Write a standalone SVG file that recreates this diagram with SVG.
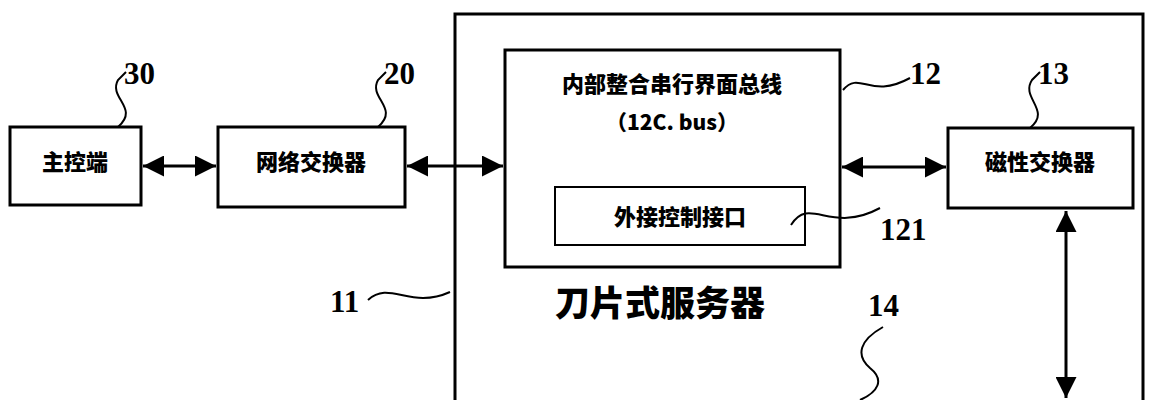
<svg xmlns="http://www.w3.org/2000/svg" width="1157" height="400" viewBox="0 0 1157 400">
<defs>
<marker id="ah" viewBox="0 0 10 10" refX="10" refY="5" markerWidth="7" markerHeight="7" orient="auto-start-reverse"><path d="M0,0 L10,5 L0,10 z" fill="#000"/></marker>
<style>
.box{fill:#fff;stroke:#000;stroke-width:3}
.lead{fill:none;stroke:#000;stroke-width:2}
.t{font-family:"Noto Sans CJK SC","Liberation Sans",sans-serif;font-weight:900;fill:#000}
.n{font-family:"Liberation Serif",serif;font-weight:bold;fill:#000;font-size:31px}
.c{fill:none;stroke:#000;stroke-width:3;marker-start:url(#ah);marker-end:url(#ah)}
</style>
</defs>
<rect width="1157" height="400" fill="#fff"/>
<g id="blade"><path class="box" d="M455,410 V14 H1143 V410" fill="none"/>
<text class="t" x="660" y="316" font-size="35" text-anchor="middle">刀片式服务器</text></g>
<g id="host"><rect class="box" x="10" y="127" width="131" height="78"/><text class="t" x="75" y="170" font-size="22" text-anchor="middle">主控端</text></g>
<g id="netsw"><rect class="box" x="218" y="127" width="187" height="80"/><text class="t" x="311" y="170" font-size="22" text-anchor="middle">网络交换器</text></g>
<g id="bus"><rect class="box" x="505" y="50" width="335" height="217"/>
<text class="t" x="672" y="92" font-size="22" text-anchor="middle">内部整合串行界面总线</text>
<text class="t" x="672" y="130" font-size="21" text-anchor="middle">（12C. bus）</text></g>
<g id="ext"><rect x="555" y="187" width="250" height="58" fill="none" stroke="#000" stroke-width="2"/><text class="t" x="680" y="225" font-size="22" text-anchor="middle">外接控制接口</text></g>
<g id="magsw"><rect class="box" x="948" y="128" width="185" height="80"/><text class="t" x="1040" y="170" font-size="22" text-anchor="middle">磁性交换器</text></g>
<g id="connectors">
<line class="c" x1="143" y1="166" x2="216" y2="166"/>
<line class="c" x1="407" y1="166" x2="503" y2="166"/>
<line class="c" x1="842" y1="167" x2="946" y2="167"/>
<line class="c" x1="1066" y1="211" x2="1066" y2="398"/>
</g>
<g id="labels">
<path class="lead" d="M118,127 C140,108 108,98 118,80 L126,72"/><text class="n" x="124" y="84">30</text>
<path class="lead" d="M378,127 C400,108 368,98 378,80 L386,72"/><text class="n" x="384" y="84">20</text>
<path class="lead" d="M843,90 C860,70 870,100 910,78"/><text class="n" x="910" y="84">12</text>
<path class="lead" d="M1030,128 C1052,110 1020,98 1032,80 L1040,72"/><text class="n" x="1038" y="84">13</text>
<path class="lead" d="M791,225 C810,195 830,235 880,208"/><text class="n" x="880" y="240">121</text>
<path class="lead" d="M368,300 C390,280 410,310 450,292"/><text class="n" x="330" y="312">11</text>
<text class="n" x="868" y="316">14</text>
<path class="lead" d="M883,327 C860,340 855,355 870,368 C885,380 878,392 860,400"/>
</g>
</svg>
